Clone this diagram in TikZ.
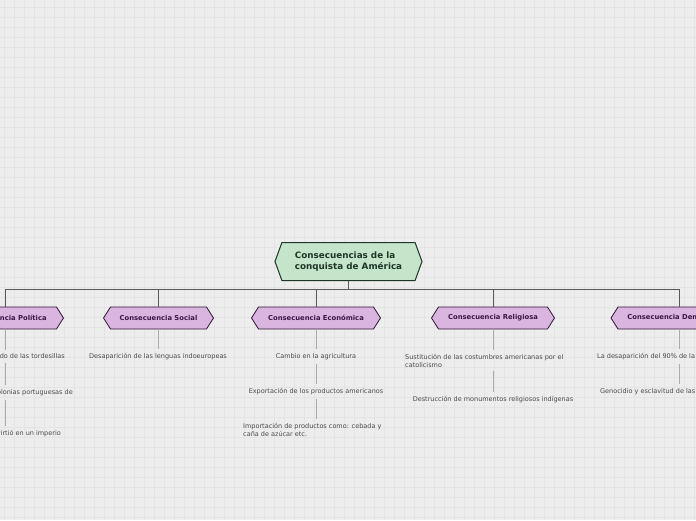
\documentclass[tikz,border=0pt]{standalone}
\usepackage{fontspec}
\setmainfont{DejaVu Sans}
\usetikzlibrary{shapes.symbols}

\definecolor{fondo}{HTML}{EDEDED}
\definecolor{rejilla}{HTML}{E4E4E4}
\definecolor{verde}{HTML}{C5E5CB}
\definecolor{verdeborde}{HTML}{1F3526}
\definecolor{lila}{HTML}{D9B5E0}
\definecolor{lilaborde}{HTML}{2E1535}
\definecolor{textolila}{HTML}{3A1745}
\definecolor{gris}{HTML}{4A4A4A}
\definecolor{lineagris}{HTML}{ABABAB}

\tikzset{
  raiz/.style={signal, signal to=west and east, signal pointer angle=140,
    draw=verdeborde, fill=verde, line width=1pt, minimum width=147pt,
    minimum height=38pt, font=\fontsize{8.8}{11}\selectfont\bfseries,
    text=verdeborde, align=left},
  rama/.style={signal, signal to=west and east, signal pointer angle=115,
    draw=lilaborde, fill=lila, line width=0.8pt, minimum height=22pt,
    font=\fontsize{6.8}{8}\selectfont\bfseries, text=textolila},
  hoja/.style={font=\fontsize{6.5}{8}\selectfont, text=gris, inner sep=4pt,
    align=left},
  conector/.style={draw=black!65, line width=0.9pt},
  enlace/.style={draw=lineagris, line width=1pt},
}

\begin{document}
\begin{tikzpicture}[x=1pt, y=-1pt]
  \useasboundingbox (0,0) rectangle (696,520);
  \clip (0,0) rectangle (696,520);
  \fill[fondo] (0,0) rectangle (696,520);

  % fondo cuadriculado
  \foreach \x in {4,14,...,694}
    \draw[rejilla, line width=0.5pt] (\x,0) -- (\x,520);
  \foreach \y in {7,17,...,517}
    \draw[rejilla, line width=0.5pt] (0,\y) -- (696,\y);

  % tema central
  \node[raiz] (tema) at (348.5,261.5) {Consecuencias de la\\conquista de América};

  % consecuencias
  \node[rama, minimum width=117pt] (pol) at (5,318) {Consecuencia Política};
  \node[rama, minimum width=110pt] (soc) at (158.5,318) {Consecuencia Social};
  \node[rama, minimum width=129pt] (eco) at (316,318) {Consecuencia Económica};
  \node[rama, minimum width=123pt] (rel) at (493,318) {Consecuencia Religiosa};
  \node[rama, minimum width=136pt] (dem) at (679,318) {Consecuencia Demográfica};

  \coordinate (bus) at (348.5,289);
  \draw[conector] (tema.south) -- (bus);
  \foreach \n in {pol,soc,eco,rel,dem}
    \draw[conector] (bus) -| (\n.north);

  % ideas secundarias
  \node[hoja, anchor=east] (p1) at (69,356.5) {Tratado de las tordesillas};
  \node[hoja, anchor=east] (p2) at (77,392.5) {Las colonias portuguesas de};
  \node[hoja, anchor=east] (p3) at (65,433.5) {Brasil se convirtió en un imperio};

  \node[hoja] (s1) at (158,356.5) {Desaparición de las lenguas indoeuropeas};

  \node[hoja] (e1) at (316,356.5) {Cambio en la agricultura};
  \node[hoja] (e2) at (316,391.5) {Exportación de los productos americanos};
  \node[hoja, anchor=west] (e3) at (239,429.5) {Importación de productos como: cebada y\\caña de azúcar etc.};

  \node[hoja, anchor=west] (r1) at (401,360.5) {Sustitución de las costumbres americanas por el\\catolicismo};
  \node[hoja] (r2) at (493,399.5) {Destrucción de monumentos religiosos indígenas};

  \node[hoja, anchor=west] (d1) at (593,356.5) {La desaparición del 90\% de la población indígena};
  \node[hoja, anchor=west] (d2) at (596,391.5) {Genocidio y esclavitud de las poblaciones indígenas};

  \draw[enlace] (pol.south) -- (pol.south |- p1.north);
  \draw[enlace] (p1.south -| pol) -- (p2.north -| pol);
  \draw[enlace] (p2.south -| pol) -- (p3.north -| pol);

  \draw[enlace] (soc.south) -- (soc.south |- s1.north);

  \draw[enlace] (eco.south) -- (e1.north);
  \draw[enlace] (e1.south) -- (e2.north);
  \draw[enlace] (e2.south) -- (e2.south |- e3.north);

  \draw[enlace] (rel.south) -- (rel.south |- r1.north);
  \draw[enlace] (r1.south -| rel) -- (r2.north -| rel);

  \draw[enlace] (dem.south) -- (dem.south |- d1.north);
  \draw[enlace] (d1.south -| dem) -- (d2.north -| dem);
\end{tikzpicture}
\end{document}
